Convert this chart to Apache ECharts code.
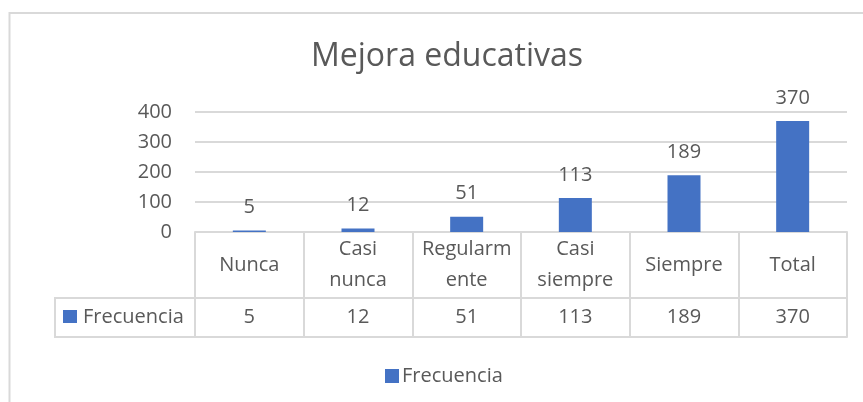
<!DOCTYPE html>
<html>
<head>
<meta charset="utf-8">
<script src="https://cdn.jsdelivr.net/npm/echarts@6/dist/echarts.min.js"></script>
<style>
  html, body { margin: 0; padding: 0; background: #fff; }
  #chart { width: 863px; height: 402px; }
</style>
</head>
<body>
<div id="chart"></div>
<script>
const categories = ['Nunca', 'Casi\nnunca', 'Regularm\nente', 'Casi\nsiempre', 'Siempre', 'Total']
const frecuencia = [5, 12, 51, 113, 189, 370]
const yTicks = [0, 100, 200, 300, 400]

const FONT = 'Open Sans'
const TEXT = '#595959'
const LINE = '#d9d9d9'
const BLUE = '#4472C4'

const chart = echarts.init(document.getElementById('chart'))

chart.setOption({
  backgroundColor: '#fff',
  textStyle: { fontFamily: FONT },
  title: {
    text: 'Mejora educativas',
    left: 442,
    textAlign: 'center',
    top: 36,
    textStyle: { fontFamily: FONT, fontSize: 32, fontWeight: 'normal', color: TEXT }
  },
  legend: {
    data: ['Frecuencia'],
    left: 380,
    top: 361,
    icon: 'rect',
    itemWidth: 14,
    itemHeight: 14,
    itemGap: 6,
    textStyle: { fontFamily: FONT, fontSize: 20, color: TEXT, padding: [0, 0, 0, -2] }
  },
  grid: { left: 195, right: 16, top: 112, bottom: 170 },
  xAxis: [
    {
      type: 'category',
      data: categories,
      position: 'bottom',
      axisLine: { lineStyle: { color: LINE, width: 2 } },
      axisTick: { show: true, length: 105, lineStyle: { color: LINE, width: 2 } },
      axisLabel: {
        interval: 0, margin: 33, verticalAlign: 'middle',
        fontFamily: FONT, fontSize: 20, lineHeight: 31, color: TEXT
      }
    },
    {
      type: 'category',
      data: categories,
      position: 'bottom',
      offset: 66,
      axisLine: { lineStyle: { color: LINE, width: 2 } },
      axisTick: { show: false },
      axisLabel: {
        interval: 0, margin: 19, verticalAlign: 'middle',
        fontFamily: FONT, fontSize: 20, color: TEXT,
        formatter: (v, i) => String(frecuencia[i])
      }
    },
    {
      type: 'category',
      data: categories,
      position: 'bottom',
      offset: 105,
      axisLine: { lineStyle: { color: LINE, width: 2 } },
      axisTick: { show: false },
      axisLabel: { show: false }
    }
  ],
  yAxis: {
    type: 'value',
    min: yTicks[0],
    max: yTicks[yTicks.length - 1],
    interval: 100,
    axisLine: { show: false },
    axisTick: { show: false },
    axisLabel: { margin: 23, fontFamily: FONT, fontSize: 20, color: TEXT },
    splitLine: { lineStyle: { color: LINE, width: 2 } }
  },
  series: [{
    name: 'Frecuencia',
    type: 'bar',
    data: frecuencia,
    barWidth: 33,
    itemStyle: { color: BLUE },
    label: {
      show: true, position: 'top', distance: 13,
      fontFamily: FONT, fontSize: 20, color: TEXT
    }
  }],
  graphic: [
    // chart area border (only left/top visible in the crop)
    { type: 'rect', shape: { x: 9.5, y: 13, width: 880, height: 420 },
      style: { fill: 'none', stroke: LINE, lineWidth: 2 }, silent: true },
    // row header cell of the data table
    { type: 'polyline', shape: { points: [[195, 298], [55, 298], [55, 337], [195, 337]] },
      style: { fill: 'none', stroke: LINE, lineWidth: 2 }, silent: true },
    { type: 'rect', shape: { x: 63, y: 310, width: 14, height: 13 },
      style: { fill: BLUE }, silent: true },
    { type: 'text', x: 83, y: 317,
      style: { text: 'Frecuencia', fontFamily: FONT, fontSize: 20, fill: TEXT, verticalAlign: 'middle' },
      silent: true }
  ]
})
</script>
</body>
</html>
